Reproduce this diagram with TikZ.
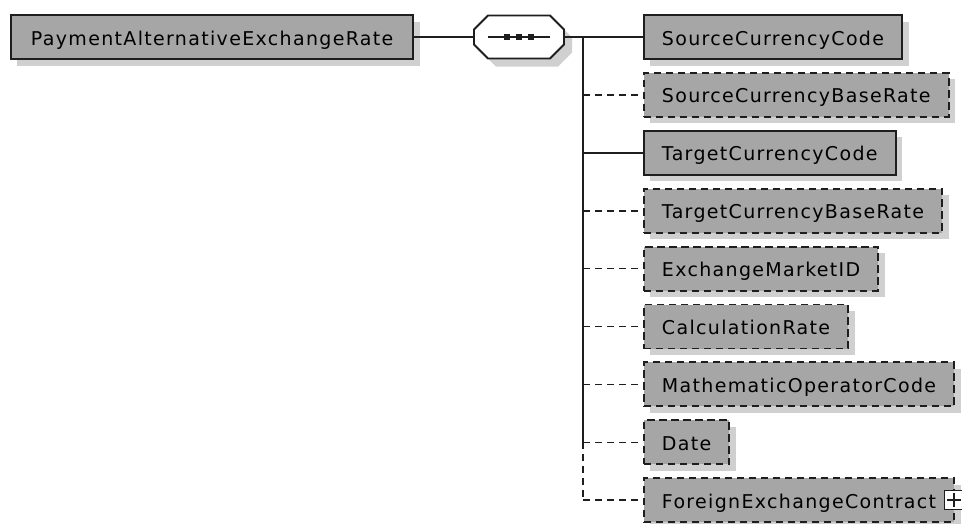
\documentclass[tikz,border=0pt]{standalone}
\usepackage{fontspec}
\setmainfont[LetterSpace=7]{DejaVu Sans}
\usetikzlibrary{positioning,shadows}

\definecolor{boxgray}{RGB}{166,166,166}
\definecolor{shadegray}{RGB}{208,208,208}
\definecolor{edgegray}{RGB}{30,30,30}

\begin{document}
\begin{tikzpicture}[x=1pt,y=-1pt,node distance=12pt,
  elem/.style={draw=edgegray,line width=1.9pt,fill=boxgray,anchor=west,minimum height=44pt,
    inner xsep=18pt,text height=18pt,text depth=2pt,font=\fontsize{19}{22}\selectfont,
    drop shadow={shadow xshift=6.5pt,shadow yshift=-6.5pt,fill=shadegray,opacity=1}},
  optelem/.style={elem,dash pattern=on 7.5pt off 4.5pt},
  link/.style={draw=edgegray,line width=1.6pt},
  optlink/.style={link,dash pattern=on 7pt off 5pt}]
  \useasboundingbox (0,0) rectangle (962,523);
  \node[elem,inner xsep=20pt] (root) at (10,37) {PaymentAlternativeExchangeRate};
  \node[minimum width=90pt,minimum height=43pt,inner sep=0pt,outer sep=0pt] (seq) at (519,37) {};
  % children of the sequence
  \node[elem] (src) at (643,37) {SourceCurrencyCode};
  \node[optelem,below=of src.south west,anchor=north west] (sbr) {SourceCurrencyBaseRate};
  \node[elem,below=of sbr.south west,anchor=north west] (tcc) {TargetCurrencyCode};
  \node[optelem,below=of tcc.south west,anchor=north west] (tbr) {TargetCurrencyBaseRate};
  \node[optelem,below=of tbr.south west,anchor=north west] (emid) {ExchangeMarketID};
  \node[optelem,below=of emid.south west,anchor=north west] (crate) {CalculationRate};
  \node[optelem,below=of crate.south west,anchor=north west] (moc) {MathematicOperatorCode};
  \node[optelem,below=of moc.south west,anchor=north west] (date) {Date};
  \node[optelem,below=of date.south west,anchor=north west] (fec) {ForeignExchangeContract};
  \node[draw=edgegray,fill=white,line width=1.5pt,minimum size=19pt,inner sep=0pt] (fecplus) at ([xshift=-1pt]fec.east) {};
  \draw[link] ([xshift=3pt]fecplus.west) -- ([xshift=-3pt]fecplus.east);
  \draw[link] ([yshift=-3pt]fecplus.north) -- ([yshift=3pt]fecplus.south);
  % sequence symbol
  \begin{scope}[shift={(seq.center)}]
    \fill[shadegray] (-23,-13.5) -- (39,-13.5) -- (53,0.5) -- (53,15.5) -- (39,29.5) -- (-23,29.5) -- (-37,15.5) -- (-37,0.5) -- cycle;
    \filldraw[fill=white,draw=edgegray,line width=1.8pt] (-31,-21.5) -- (31,-21.5) -- (45,-7.5) -- (45,7.5) -- (31,21.5) -- (-31,21.5) -- (-45,7.5) -- (-45,-7.5) -- cycle;
    \draw[link] (-31,0) -- (31,0);
    \foreach \dx in {-12,0,12}
      \fill[edgegray] (\dx-3,-3) rectangle (\dx+3,3);
  \end{scope}
  \coordinate[right=19pt of seq.east] (trunk);
  \draw[link] (root) -- (seq);
  \draw[link] (seq) -- (src);
  \draw[link] (trunk) -- (trunk |- date.west);
  \draw[optlink] (trunk |- date.west) -- (trunk |- fec.west);
  \draw[link] (trunk |- tcc.west) -- (tcc);
  \foreach \n in {sbr,tbr,emid,crate,moc,date,fec}
    \draw[optlink] (trunk |- \n.west) -- (\n);
\end{tikzpicture}
\end{document}
